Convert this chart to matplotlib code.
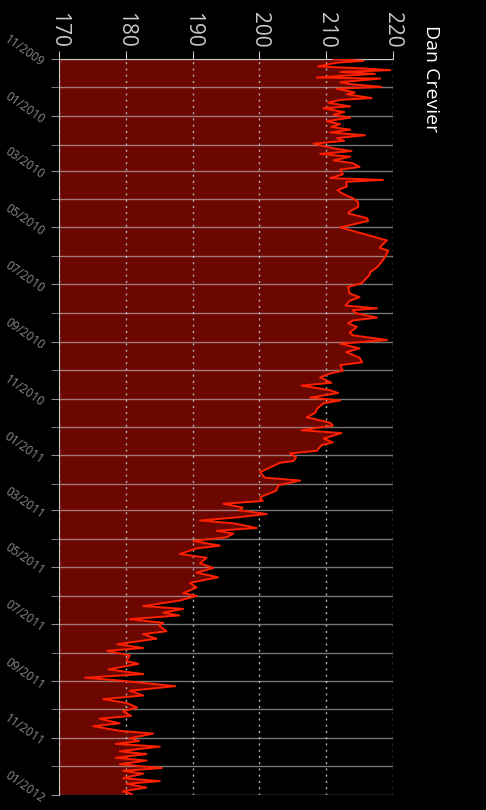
import matplotlib.pyplot as plt
import matplotlib.dates as mdates
import pandas as pd

plt.rcParams['font.family'] = ['Open Sans', 'DejaVu Sans']

title = 'Dan Crevier'
start = '2009-11-01'
end = '2012-01-01'

# days since start, weight (lb)
day = [0, 2, 4, 8, 10, 12, 14, 16, 18, 20,
       21, 25, 27, 30, 32, 36, 38, 42, 44, 47,
       51, 53, 57, 60, 63, 67, 70, 73, 76, 79,
       82, 85, 88, 91, 96, 99, 102, 105, 109, 112,
       116, 119, 124, 128, 130, 132, 137, 141, 145, 150,
       154, 159, 164, 166, 171, 174, 181, 195, 199, 203,
       206, 213, 218, 224, 229, 232, 241, 245, 252, 256,
       260, 265, 268, 270, 273, 278, 281, 284, 288, 294,
       297, 302, 306, 311, 315, 321, 326, 329, 335, 338,
       342, 348, 351, 356, 359, 364, 367, 370, 376, 380,
       385, 391, 394, 399, 402, 408, 412, 415, 421, 424,
       428, 432, 434, 439, 444, 450, 453, 458, 464, 471,
       475, 478, 482, 485, 489, 493, 496, 499, 504, 507,
       510, 514, 518, 523, 526, 532, 536, 542, 547, 552,
       557, 563, 568, 574, 577, 582, 588, 591, 595, 598,
       602, 606, 609, 615, 618, 623, 629, 633, 636, 641,
       647, 650, 656, 661, 665, 668, 674, 679, 684, 688,
       692, 697, 701, 706, 709, 714, 717, 722, 725, 730,
       733, 736, 739, 744, 747, 751, 754, 758, 762, 765,
       768, 773, 776, 779, 783, 787, 790]

weight = [211.1, 215.6, 211.6, 208.8, 215.1, 219.6, 212.1, 217.3, 212.7, 208.6,
          218.1, 212.1, 213.6, 218.3, 211.6, 214.3, 213.1, 216.8, 212.1, 210.3,
          213.6, 209.6, 212.7, 211.1, 213.6, 210.1, 212.1, 210.8, 213.6, 210.6,
          215.8, 211.6, 212.7, 208.1, 211.1, 213.8, 209.1, 213.6, 211.1, 214.0,
          215.0, 212.1, 212.5, 210.6, 218.5, 213.0, 213.1, 211.7, 212.5, 214.1,
          214.8, 214.8, 213.5, 213.3, 216.1, 216.3, 212.1, 219.1, 218.5, 218.0,
          219.3, 218.8, 218.3, 217.6, 216.6, 216.5, 215.3, 213.3, 213.5, 215.0,
          213.5, 212.9, 217.6, 214.0, 214.4, 217.6, 214.0, 213.3, 214.6, 213.5,
          214.0, 219.1, 212.1, 215.0, 213.0, 215.0, 215.4, 212.1, 212.5, 210.6,
          209.1, 210.8, 206.3, 210.6, 211.8, 207.6, 212.1, 209.6, 208.6, 208.4,
          207.1, 210.6, 211.0, 206.3, 212.3, 209.6, 211.0, 209.3, 208.6, 204.6,
          205.5, 205.1, 203.1, 201.6, 200.1, 200.8, 206.1, 202.9, 202.5, 200.1,
          200.5, 194.6, 197.5, 197.0, 201.1, 196.1, 191.1, 196.1, 199.6, 193.6,
          196.1, 195.1, 190.1, 194.1, 190.6, 188.1, 192.1, 191.1, 193.1, 190.6,
          193.8, 189.6, 190.6, 188.6, 190.6, 188.1, 182.6, 188.6, 185.6, 188.0,
          180.6, 185.6, 185.0, 186.1, 182.6, 184.6, 178.7, 182.6, 177.2, 180.6,
          180.1, 181.9, 177.4, 182.6, 173.9, 179.1, 187.4, 180.6, 182.6, 176.6,
          180.1, 181.7, 179.6, 180.8, 176.1, 179.1, 175.1, 179.1, 184.1, 180.6,
          182.0, 178.5, 185.1, 179.1, 183.1, 178.5, 183.1, 179.1, 185.4, 179.6,
          182.6, 179.6, 185.1, 180.1, 183.1, 179.6, 180.9]

weight_ticks = [170, 180, 190, 200, 210, 220]

dates = pd.Timestamp(start) + pd.to_timedelta(day, unit='D')

fig = plt.figure(figsize=(4.86, 8.1), dpi=100, facecolor='black')
ax = fig.add_axes([0.1214, 0.0185, 0.6872, 0.9087])
ax.set_facecolor('black')

ax.fill_betweenx(dates, weight_ticks[0], weight, color='#6b0600', lw=0, zorder=1)
ax.plot(weight, dates, color='#ff2000', lw=1.4, zorder=3)

ax.set_xlim(weight_ticks[0], weight_ticks[-1])
ax.set_ylim(pd.Timestamp(end), pd.Timestamp(start))

# weight axis on top, rotated labels
ax.xaxis.tick_top()
ax.set_xticks(weight_ticks)
ax.tick_params(axis='x', colors='#c8c8c8', labelsize=15, labelrotation=270,
               length=6, pad=2)

# date axis
ax.yaxis.set_major_locator(mdates.MonthLocator(bymonth=[1, 3, 5, 7, 9, 11]))
ax.yaxis.set_minor_locator(mdates.MonthLocator())
ax.yaxis.set_major_formatter(mdates.DateFormatter('%m/%Y'))
ax.tick_params(axis='y', which='both', colors='#8a8a8a', length=6, labelsize=8.5, pad=3)
plt.setp(ax.get_yticklabels(), rotation=-35, ha='right', va='top',
         rotation_mode='anchor')

ax.grid(axis='y', which='both', color='#d8d8d8', alpha=0.55, lw=1)
ax.grid(axis='x', color='#b0b0b0', linestyle=(0, (1.5, 3)), lw=1)

for s in ['right', 'bottom']:
    ax.spines[s].set_visible(False)
for s in ['top', 'left']:
    ax.spines[s].set_color('#c8c8c8')

fig.text(0.887, 0.969, title, rotation=270, color='white', fontsize=14,
         ha='center', va='top')

fig.savefig('out.png', dpi=100, facecolor='black')
